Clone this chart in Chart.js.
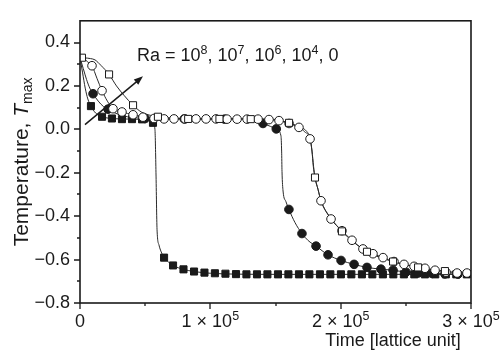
<!DOCTYPE html>
<html>
<head>
<meta charset="utf-8">
<script src="https://cdn.jsdelivr.net/npm/chart.js@4/dist/chart.umd.min.js"></script>
<style>
  html, body { margin: 0; padding: 0; background: #fff; }
  #wrap { width: 501px; height: 356px; }
</style>
</head>
<body>
<div id="wrap"><canvas id="chart" width="501" height="356"></canvas></div>
<script>
// ── Data (time in lattice units, T_max) ─────────────────────

// Ra = 10^8, filled squares
const ra8Line = [[0,0.33],[2000,0.26],[4000,0.19],[6000,0.14],[8400,0.107],[12000,0.075],[16900,0.058],
  [24500,0.05],[32200,0.048],[40000,0.047],[47600,0.046],[53000,0.042],[56000,0.03],[57500,0.0],
  [58300,-0.2],[59100,-0.46],[60600,-0.533],[62900,-0.573],[64500,-0.591],[68000,-0.612],[71400,-0.627],
  [79400,-0.645],[87500,-0.655],[100000,-0.663],[120000,-0.667],[150000,-0.668],[200000,-0.668],
  [250000,-0.668],[300000,-0.668]];
const ra8Marks = [[8400,0.107],[16900,0.058],[24500,0.05],[32200,0.047],[39900,0.047],[47600,0.046],
  [56000,0.03],[64500,-0.591],[71400,-0.627],[79400,-0.645],[87500,-0.655],[95500,-0.66],[103500,-0.663],
  [111600,-0.665],[119700,-0.667],[127700,-0.668],[135800,-0.668],[143800,-0.668],[151900,-0.668],
  [159900,-0.668],[168000,-0.668],[176000,-0.668],[184100,-0.668],[192100,-0.668],[200200,-0.668],
  [208200,-0.668],[216300,-0.668],[224300,-0.668],[232400,-0.668],[240400,-0.668],[248500,-0.668],
  [256500,-0.668],[264600,-0.668],[272600,-0.668],[280700,-0.668],[288700,-0.668],[296800,-0.668]];

// Ra = 10^7, filled circles
const ra7Line = [[0,0.33],[2500,0.28],[5000,0.23],[7500,0.19],[10000,0.164],[14000,0.13],[18000,0.105],
  [21500,0.093],[27000,0.075],[33000,0.062],[40000,0.055],[50000,0.05],[70000,0.048],[100000,0.048],
  [125000,0.046],[135000,0.04],[140400,0.027],[146000,0.014],[150600,0.002],[154200,-0.03],[154700,-0.1],
  [155000,-0.195],[155800,-0.284],[158000,-0.333],[160300,-0.369],[165000,-0.43],[170300,-0.48],
  [175000,-0.512],[181100,-0.538],[190300,-0.578],[200300,-0.604],[210300,-0.622],[220200,-0.636],
  [230900,-0.644],[240200,-0.649],[250100,-0.658],[259400,-0.662],[270100,-0.664],[280000,-0.666],
  [290000,-0.667],[300000,-0.668]];
const ra7Marks = [[10000,0.164],[21500,0.093],[50000,0.05],[80000,0.048],[111000,0.047],[140400,0.027],
  [150600,0.002],[160300,-0.369],[170300,-0.48],[181100,-0.538],[190300,-0.578],[200300,-0.604],
  [210300,-0.622],[220200,-0.636],[230900,-0.644],[240200,-0.649],[250100,-0.658],[259400,-0.662],
  [270100,-0.664],[280000,-0.666],[290000,-0.667]];

// Ra = 10^6, open circles
const ra6Line = [[0,0.33],[3000,0.325],[6000,0.31],[9200,0.293],[13000,0.235],[16900,0.178],[21000,0.13],
  [25300,0.095],[32200,0.08],[40700,0.067],[48300,0.056],[56800,0.05],[70000,0.048],[100000,0.048],
  [136600,0.047],[145000,0.045],[152700,0.04],[160400,0.027],[168000,0.009],[172500,-0.012],
  [176500,-0.044],[178000,-0.1],[179200,-0.17],[180300,-0.222],[182600,-0.276],[184900,-0.329],
  [192600,-0.413],[201000,-0.467],[208700,-0.511],[217100,-0.551],[224800,-0.573],[232500,-0.591],
  [240900,-0.609],[248600,-0.622],[256300,-0.631],[264700,-0.64],[272400,-0.649],[280800,-0.658],
  [289300,-0.662],[300000,-0.663]];
const ra6Marks = [[9200,0.293],[16900,0.178],[25300,0.095],[32200,0.08],[40700,0.067],[48300,0.056],
  [56800,0.05],[64500,0.048],[72100,0.048],[80600,0.048],[89000,0.048],[96700,0.048],[104400,0.048],
  [112800,0.047],[120500,0.047],[128200,0.047],[136600,0.047],[145000,0.045],[152700,0.04],
  [160400,0.027],[168000,0.009],[176500,-0.044],[184900,-0.329],[192600,-0.413],[201000,-0.467],
  [208700,-0.511],[217100,-0.551],[224800,-0.573],[232500,-0.591],[240900,-0.609],[248600,-0.622],
  [256300,-0.631],[264700,-0.64],[272400,-0.649],[280800,-0.658],[289300,-0.662],[296900,-0.662]];

// Ra = 10^4 / 0, open squares
const ra4Line = [[0,0.33],[3800,0.329],[8000,0.326],[11500,0.32],[16000,0.295],[22300,0.253],[28000,0.2],
  [34000,0.155],[40700,0.111],[47000,0.08],[53000,0.066],[59800,0.058],[70000,0.052],[100000,0.048],
  [140000,0.047],[150000,0.044],[160400,0.03],[168000,0.012],[174000,-0.01],[176500,-0.04],
  [178000,-0.1],[179000,-0.17],[180300,-0.222],[182600,-0.276],[184900,-0.329],[192600,-0.41],
  [201000,-0.47],[210000,-0.52],[220200,-0.564],[230000,-0.59],[240200,-0.609],[250000,-0.625],
  [259400,-0.636],[270000,-0.646],[280000,-0.653],[290000,-0.66],[300000,-0.663]];
const ra4Marks = [[1500,0.33],[22300,0.253],[40700,0.111],[59800,0.058],[83000,0.048],[107000,0.048],
  [131000,0.047],[160400,0.03],[180300,-0.222],[201000,-0.47],[220200,-0.564],[240200,-0.609],
  [259400,-0.636],[280000,-0.653]];

// Axis ticks and labels
const xMajor = [0, 100000, 200000, 300000];
const xMinor = [50000, 150000, 250000];
const xTickText = ['0', '1 \u00d7 10', '2 \u00d7 10', '3 \u00d7 10'];
const xTickExp = ['', '5', '5', '5'];
const yMajor = [0.4, 0.2, 0.0, -0.2, -0.4, -0.6, -0.8];
const yMinor = [0.3, 0.1, -0.1, -0.3, -0.5, -0.7];

// Annotation: "Ra = 10^8, 10^7, 10^6, 10^4, 0" and arrow (data units)
const raExps = ['8', '7', '6', '4'];
const arrowFrom = [3800, 0.022];
const arrowTo = [48300, 0.244];

// ── Helpers ────────────────────────────────────────────────

const FONT = '"Liberation Sans", Arial, Helvetica, sans-serif';
const INK = '#1a1a1a';
const FS = 18;    // main text size
const SUP = 12.5; // superscript / subscript size

function pts(arr) {
  return arr.map(function (p) { return { x: p[0], y: p[1] }; });
}

function fmtY(v) {
  var s = Math.abs(v).toFixed(1);
  return v < -1e-9 ? '\u2212' + s : s;
}

// parts: [{t, size, dy, italic}]
function drawRich(ctx, parts, x, y, align) {
  var total = 0;
  parts.forEach(function (p) {
    ctx.font = (p.italic ? 'italic ' : '') + p.size + 'px ' + FONT;
    p.w = ctx.measureText(p.t).width;
    total += p.w;
  });
  var cx = align === 'center' ? x - total / 2 : align === 'right' ? x - total : x;
  ctx.textAlign = 'left';
  ctx.textBaseline = 'alphabetic';
  parts.forEach(function (p) {
    ctx.font = (p.italic ? 'italic ' : '') + p.size + 'px ' + FONT;
    ctx.fillText(p.t, cx, y + (p.dy || 0));
    cx += p.w;
  });
}

// ── Frame, ticks, titles, annotation ───────────────────────

const framePlugin = {
  id: 'frame',
  afterDraw: function (chart) {
    var ctx = chart.ctx;
    var a = chart.chartArea;
    var xs = chart.scales.x, ys = chart.scales.y;
    ctx.save();
    ctx.strokeStyle = INK;
    ctx.fillStyle = INK;

    // box
    ctx.lineWidth = 1.6;
    ctx.strokeRect(a.left, a.top, a.right - a.left, a.bottom - a.top);

    // ticks
    ctx.lineWidth = 1.3;
    ctx.beginPath();
    xMajor.forEach(function (v) {
      var px = Math.round(xs.getPixelForValue(v));
      ctx.moveTo(px, a.bottom); ctx.lineTo(px, a.bottom + 6);
    });
    xMinor.forEach(function (v) {
      var px = Math.round(xs.getPixelForValue(v));
      ctx.moveTo(px, a.bottom); ctx.lineTo(px, a.bottom + 3);
    });
    yMajor.forEach(function (v) {
      var py = Math.round(ys.getPixelForValue(v));
      ctx.moveTo(a.left, py); ctx.lineTo(a.left - 6, py);
    });
    yMinor.forEach(function (v) {
      var py = Math.round(ys.getPixelForValue(v));
      ctx.moveTo(a.left, py); ctx.lineTo(a.left - 3, py);
    });
    ctx.stroke();

    // x tick labels
    xMajor.forEach(function (v, i) {
      var px = xs.getPixelForValue(v);
      var parts = [{ t: xTickText[i], size: FS }];
      if (xTickExp[i]) parts.push({ t: xTickExp[i], size: SUP, dy: -7 });
      drawRich(ctx, parts, px, 327, 'center');
    });

    // x title
    drawRich(ctx, [{ t: 'Time [lattice unit]', size: FS }], 393, 346, 'center');

    // y title
    ctx.save();
    ctx.translate(28, (a.top + a.bottom) / 2);
    ctx.rotate(-Math.PI / 2);
    drawRich(ctx, [
      { t: 'Temperature, ', size: 21 },
      { t: 'T', size: 21, italic: true },
      { t: 'max', size: 14, dy: 4 }
    ], 0, 0, 'center');
    ctx.restore();

    // Ra annotation
    var parts = [{ t: 'Ra = ', size: FS }];
    raExps.forEach(function (e) {
      parts.push({ t: '10', size: FS });
      parts.push({ t: e, size: SUP, dy: -7 });
      parts.push({ t: ', ', size: FS });
    });
    parts.push({ t: '0', size: FS });
    drawRich(ctx, parts, 137, 61, 'left');

    // arrow
    var x0 = xs.getPixelForValue(arrowFrom[0]), y0 = ys.getPixelForValue(arrowFrom[1]);
    var x1 = xs.getPixelForValue(arrowTo[0]), y1 = ys.getPixelForValue(arrowTo[1]);
    var ang = Math.atan2(y1 - y0, x1 - x0);
    ctx.lineWidth = 1.5;
    ctx.beginPath();
    ctx.moveTo(x0, y0);
    ctx.lineTo(x1 - 5 * Math.cos(ang), y1 - 5 * Math.sin(ang));
    ctx.stroke();
    ctx.beginPath();
    ctx.moveTo(x1, y1);
    ctx.lineTo(x1 - 9 * Math.cos(ang) + 3.5 * Math.sin(ang), y1 - 9 * Math.sin(ang) - 3.5 * Math.cos(ang));
    ctx.lineTo(x1 - 9 * Math.cos(ang) - 3.5 * Math.sin(ang), y1 - 9 * Math.sin(ang) + 3.5 * Math.cos(ang));
    ctx.closePath();
    ctx.fill();

    ctx.restore();
  }
};

// ── Datasets ───────────────────────────────────────────────

function markSet(data, style, filled, r) {
  return {
    data: pts(data),
    showLine: false,
    pointStyle: style,
    pointRadius: r,
    pointBorderWidth: 1,
    pointBorderColor: INK,
    pointBackgroundColor: filled ? INK : '#fff',
    borderColor: INK,
  };
}

function lineSet(data) {
  return {
    data: pts(data),
    borderColor: '#2a2a2a',
    borderWidth: 1,
    pointRadius: 0,
    cubicInterpolationMode: 'monotone',
    fill: false,
  };
}

const datasets = [
  markSet(ra4Marks, 'rect', false, 5),
  markSet(ra6Marks, 'circle', false, 4.3),
  markSet(ra7Marks, 'circle', true, 4.3),
  markSet(ra8Marks, 'rect', true, 5),
  lineSet(ra4Line),
  lineSet(ra6Line),
  lineSet(ra7Line),
  lineSet(ra8Line),
];

new Chart(document.getElementById('chart'), {
  type: 'line',
  data: { datasets: datasets },
  plugins: [framePlugin],
  options: {
    responsive: false,
    animation: false,
    devicePixelRatio: 1,
    layout: { padding: { left: 0, top: 10, right: 30, bottom: 0 } },
    plugins: { legend: { display: false }, tooltip: { enabled: false } },
    scales: {
      x: {
        type: 'linear', min: 0, max: 300000,
        grid: { display: false, drawTicks: false },
        border: { display: false },
        ticks: { display: false },
        afterFit: function (s) { s.height = 53; },
      },
      y: {
        type: 'linear', min: -0.8, max: 0.5,
        grid: { display: false, drawTicks: false },
        border: { display: false },
        afterBuildTicks: function (s) { s.ticks = yMajor.map(function (v) { return { value: v }; }); },
        ticks: {
          padding: 10,
          color: INK,
          font: { family: FONT, size: FS },
          callback: function (v) { return fmtY(v); },
        },
        afterFit: function (s) { s.width = 80; },
      },
    },
  },
});
</script>
</body>
</html>
